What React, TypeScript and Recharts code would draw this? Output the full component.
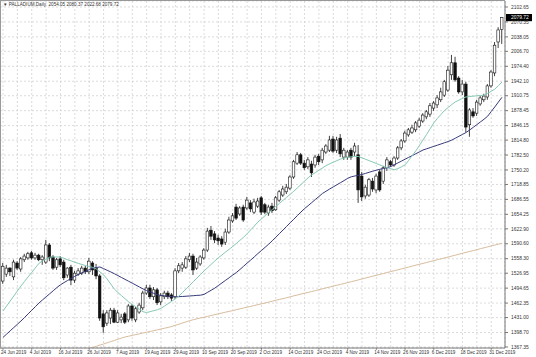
import React from 'react';
import { ComposedChart, Bar, Line, XAxis, YAxis, CartesianGrid, ReferenceLine } from 'recharts';

const symbol = 'PALLADIUM,Daily';

const opens = [
  1510, 1525, 1538, 1519, 1549, 1536, 1556, 1560, 1571, 1560,
  1566, 1556, 1551, 1588, 1562, 1540, 1558, 1551, 1523, 1540,
  1512, 1525, 1527, 1538, 1530, 1549, 1538, 1521, 1439, 1419,
  1430, 1447, 1421, 1426, 1439, 1426, 1456, 1426, 1443, 1452,
  1484, 1495, 1476, 1491, 1465, 1476, 1484, 1480, 1476, 1532,
  1538, 1540, 1556, 1564, 1538, 1547, 1560, 1577, 1620, 1612,
  1603, 1601, 1594, 1616, 1640, 1670, 1655, 1670, 1668, 1679,
  1659, 1672, 1690, 1675, 1657, 1672, 1664, 1685, 1696, 1703,
  1711, 1735, 1765, 1783, 1765, 1757, 1763, 1761, 1780, 1772,
  1789, 1793, 1817, 1793, 1819, 1778, 1778, 1793, 1789, 1783,
  1737, 1694, 1696, 1726, 1707, 1746, 1726, 1755, 1768, 1761,
  1776, 1798, 1813, 1826, 1832, 1837, 1845, 1856, 1865, 1871,
  1884, 1891, 1902, 1912, 1923, 1956, 1982, 1949, 1919, 1936,
  1848, 1876, 1873, 1893, 1902, 1908, 1932, 1960, 2027, 2054.05,
];

const highs = [
  1549, 1545, 1540, 1556, 1553, 1562, 1569, 1573, 1575, 1571,
  1569, 1566, 1599, 1592, 1566, 1560, 1564, 1556, 1540, 1545,
  1532, 1538, 1543, 1543, 1560, 1553, 1547, 1525, 1447, 1447,
  1452, 1452, 1447, 1439, 1443, 1460, 1460, 1454, 1463, 1489,
  1502, 1502, 1497, 1495, 1484, 1489, 1489, 1484, 1538, 1549,
  1551, 1564, 1571, 1569, 1560, 1566, 1581, 1625, 1629, 1618,
  1610, 1607, 1623, 1649, 1657, 1677, 1672, 1675, 1692, 1685,
  1688, 1690, 1694, 1679, 1675, 1679, 1694, 1707, 1716, 1720,
  1739, 1772, 1789, 1787, 1772, 1778, 1770, 1783, 1785, 1798,
  1806, 1824, 1824, 1822, 1828, 1798, 1793, 1798, 1809, 1804,
  1746, 1718, 1733, 1733, 1742, 1750, 1759, 1778, 1772, 1780,
  1802, 1817, 1835, 1841, 1848, 1856, 1863, 1873, 1880, 1895,
  1899, 1912, 1928, 1945, 1975, 1999, 1995, 1953, 1945, 1941,
  1884, 1884, 1902, 1910, 1915, 1936, 1966, 2027, 2059, 2080.37,
];

const lows = [
  1504, 1519, 1521, 1512, 1534, 1530, 1551, 1556, 1556, 1556,
  1553, 1545, 1547, 1553, 1534, 1534, 1540, 1512, 1517, 1501,
  1506, 1521, 1523, 1525, 1525, 1523, 1514, 1424, 1398, 1413,
  1417, 1419, 1419, 1419, 1417, 1421, 1424, 1421, 1439, 1447,
  1480, 1471, 1469, 1458, 1458, 1471, 1471, 1467, 1471, 1527,
  1530, 1536, 1551, 1523, 1534, 1543, 1556, 1573, 1599, 1592,
  1588, 1584, 1588, 1612, 1636, 1642, 1651, 1638, 1664, 1659,
  1655, 1668, 1653, 1655, 1651, 1657, 1662, 1681, 1692, 1698,
  1707, 1731, 1761, 1761, 1750, 1752, 1735, 1755, 1761, 1765,
  1785, 1789, 1787, 1787, 1778, 1772, 1772, 1772, 1780, 1679,
  1683, 1688, 1692, 1703, 1700, 1703, 1720, 1748, 1757, 1757,
  1772, 1793, 1809, 1822, 1828, 1832, 1841, 1852, 1860, 1865,
  1878, 1884, 1897, 1908, 1919, 1945, 1941, 1915, 1912, 1832,
  1822, 1863, 1867, 1889, 1897, 1902, 1928, 1953, 2014, 2022.68,
];

const closes = [
  1542, 1538, 1530, 1551, 1538, 1558, 1564, 1569, 1560, 1566,
  1556, 1562, 1588, 1560, 1538, 1556, 1545, 1517, 1538, 1512,
  1527, 1532, 1538, 1530, 1553, 1534, 1521, 1430, 1411, 1441,
  1447, 1421, 1441, 1432, 1421, 1456, 1430, 1450, 1458, 1484,
  1495, 1476, 1491, 1463, 1478, 1484, 1476, 1473, 1532, 1543,
  1545, 1558, 1564, 1534, 1551, 1562, 1577, 1618, 1607, 1599,
  1597, 1590, 1616, 1642, 1651, 1646, 1668, 1642, 1685, 1666,
  1681, 1683, 1659, 1659, 1670, 1662, 1690, 1703, 1709, 1713,
  1735, 1768, 1783, 1765, 1755, 1772, 1744, 1778, 1768, 1793,
  1802, 1815, 1791, 1815, 1785, 1793, 1789, 1778, 1802, 1707,
  1692, 1713, 1729, 1709, 1737, 1707, 1755, 1772, 1761, 1776,
  1798, 1813, 1830, 1837, 1841, 1852, 1858, 1869, 1876, 1889,
  1895, 1906, 1919, 1941, 1966, 1982, 1945, 1919, 1936, 1843,
  1880, 1867, 1897, 1906, 1910, 1932, 1962, 2020, 2053, 2079.72,
];

// light teal moving average
const maFast = [
  1445.2, 1456.0, 1466.8, 1477.6, 1488.5, 1499.3, 1509.3, 1519.0, 1528.7, 1538.4,
  1548.1, 1553.8, 1557.7, 1561.6, 1562.0, 1562.0, 1561.8, 1559.0, 1556.1, 1553.6,
  1550.7, 1548.1, 1545.8, 1543.6, 1541.4, 1539.5, 1536.0, 1529.8, 1523.5, 1514.6,
  1503.6, 1492.8, 1485.2, 1478.5, 1471.6, 1465.1, 1459.3, 1454.1, 1448.9, 1443.7,
  1441.8, 1443.9, 1445.9, 1448.0, 1451.1, 1456.0, 1461.2, 1466.4, 1471.6, 1477.4,
  1485.2, 1493.0, 1500.8, 1508.6, 1516.2, 1524.0, 1531.7, 1539.1, 1546.2, 1553.4,
  1560.5, 1566.5, 1572.8, 1578.6, 1584.9, 1591.4, 1598.1, 1604.6, 1612.4, 1620.6,
  1629.0, 1637.5, 1644.4, 1651.3, 1658.0, 1664.7, 1671.6, 1678.1, 1684.6, 1691.1,
  1697.6, 1704.3, 1711.4, 1718.8, 1726.2, 1733.3, 1739.6, 1744.5, 1749.7, 1754.7,
  1759.7, 1763.6, 1767.0, 1770.3, 1773.7, 1776.3, 1777.6, 1778.7, 1779.8, 1779.3,
  1776.3, 1773.3, 1770.3, 1767.2, 1764.2, 1761.0, 1757.9, 1755.3, 1753.0, 1750.6,
  1753.2, 1757.1, 1761.2, 1771.1, 1781.3, 1791.7, 1803.4, 1815.0, 1827.2, 1839.5,
  1852.0, 1861.7, 1870.4, 1879.0, 1885.3, 1891.6, 1897.4, 1901.3, 1905.2, 1908.2,
  1909.1, 1909.8, 1910.6, 1911.3, 1912.1, 1915.8, 1920.4, 1925.1, 1932.7, 1940.5,
];

// dark blue moving average
const maMid = [
  1388.3, 1395.2, 1402.4, 1409.4, 1416.5, 1423.6, 1431.2, 1439.0, 1446.8, 1454.5,
  1462.3, 1469.2, 1475.9, 1482.4, 1489.1, 1495.9, 1501.9, 1506.7, 1511.2, 1515.7,
  1520.3, 1524.4, 1527.8, 1531.3, 1534.5, 1538.0, 1539.3, 1540.4, 1536.9, 1533.3,
  1529.8, 1525.9, 1521.8, 1517.7, 1513.6, 1509.5, 1505.4, 1501.3, 1497.1, 1493.0,
  1489.3, 1486.3, 1483.3, 1480.3, 1479.0, 1478.1, 1477.2, 1476.4, 1475.5, 1476.2,
  1476.6, 1477.2, 1477.7, 1478.3, 1479.0, 1479.4, 1481.1, 1485.7, 1490.2, 1494.7,
  1500.4, 1506.0, 1511.6, 1517.2, 1522.9, 1528.5, 1535.0, 1541.9, 1548.8, 1555.5,
  1562.4, 1569.4, 1576.1, 1582.9, 1589.7, 1597.1, 1604.8, 1612.6, 1620.4, 1628.2,
  1636.0, 1643.8, 1651.5, 1659.3, 1666.7, 1673.0, 1679.7, 1686.4, 1692.8, 1699.5,
  1704.3, 1709.1, 1713.6, 1718.2, 1722.7, 1727.2, 1732.0, 1735.4, 1737.2, 1738.7,
  1740.6, 1742.8, 1745.2, 1747.6, 1749.7, 1751.7, 1753.4, 1755.1, 1757.5, 1761.4,
  1765.5, 1769.4, 1773.5, 1777.4, 1781.3, 1785.4, 1789.3, 1793.4, 1796.0, 1798.6,
  1801.2, 1803.8, 1806.4, 1809.1, 1811.6, 1814.8, 1818.9, 1823.1, 1827.1, 1831.3,
  1836.7, 1842.5, 1848.3, 1854.2, 1860.0, 1866.5, 1876.7, 1886.6, 1897.2, 1907.4,
];

// tan long moving average (below the visible range before late July)
const maSlow = [
  null, null, null, null, null, null, null, null, null, null,
  null, null, null, null, null, null, null, null, null, null,
  null, null, null, null, 1363.9, 1366.5, 1368.9, 1371.5, 1373.8, 1376.4,
  1379.0, 1381.4, 1384.0, 1386.6, 1389.0, 1390.7, 1392.5, 1394.2, 1395.9, 1397.6,
  1399.3, 1401.1, 1402.8, 1404.5, 1406.3, 1408.0, 1409.7, 1411.7, 1414.3, 1416.7,
  1419.3, 1421.7, 1424.3, 1426.4, 1428.2, 1430.1, 1431.8, 1433.6, 1435.5, 1437.3,
  1439.0, 1440.9, 1442.7, 1444.4, 1446.1, 1448.1, 1449.8, 1451.7, 1453.5, 1455.2,
  1457.1, 1458.9, 1460.8, 1462.5, 1464.5, 1466.4, 1468.4, 1470.3, 1472.0, 1474.0,
  1475.9, 1477.9, 1479.8, 1481.8, 1483.7, 1485.4, 1487.4, 1489.3, 1491.3, 1493.2,
  1495.2, 1497.1, 1499.1, 1501.0, 1502.7, 1504.7, 1506.6, 1508.6, 1510.5, 1512.5,
  1514.6, 1516.6, 1518.5, 1520.5, 1522.4, 1524.4, 1526.3, 1528.5, 1530.4, 1532.4,
  1534.3, 1536.3, 1538.2, 1540.2, 1542.3, 1544.3, 1546.2, 1548.2, 1550.1, 1552.1,
  1554.2, 1556.2, 1558.1, 1560.1, 1562.0, 1564.0, 1565.9, 1568.1, 1570.0, 1572.0,
  1573.9, 1575.9, 1577.8, 1580.0, 1581.9, 1583.9, 1585.9, 1587.8, 1589.8, 1591.7,
];

// bar index of each date label
const tickBars = [0, 8, 16, 24, 32, 40, 48, 56, 64, 72, 80, 88, 96, 104, 112, 120, 128, 136];
const tickLabels = [
  '24 Jun 2019', '4 Jul 2019', '16 Jul 2019', '26 Jul 2019', '7 Aug 2019', '19 Aug 2019',
  '29 Aug 2019', '10 Sep 2019', '20 Sep 2019', '2 Oct 2019', '14 Oct 2019', '24 Oct 2019',
  '4 Nov 2019', '14 Nov 2019', '26 Nov 2019', '6 Dec 2019', '18 Dec 2019', '31 Dec 2019',
];
// vertical grid every 4 bars
const gridBars = [
  0, 4, 8, 12, 16, 20, 24, 28, 32, 36, 40, 44, 48, 52, 56, 60, 64, 68, 72, 76,
  80, 84, 88, 92, 96, 100, 104, 108, 112, 116, 120, 124, 128, 132, 136,
];
const priceTicks = [
  2102.65, 2070.35, 2038.05, 2006.7, 1974.4, 1942.1, 1910.75, 1878.45, 1846.15, 1814.8,
  1782.5, 1750.2, 1718.85, 1686.55, 1654.25, 1622.9, 1590.6, 1558.3, 1526.95, 1494.65,
  1462.35, 1431.0, 1398.7, 1367.35,
];

const last = closes.length - 1;
const font = "'Liberation Sans', Arial, sans-serif";

const data = closes.map((close, i) => ({
  i,
  open: opens[i],
  high: highs[i],
  low: lows[i],
  close,
  fast: maFast[i],
  mid: maMid[i],
  slow: maSlow[i],
}));

const Candle = (props: any) => {
  const { x, y, width, height, payload } = props;
  const { open, close, high, low } = payload;
  const cx = x + width / 2;
  const toY = (v: number) => y + ((high - v) / (high - low)) * height;
  const top = toY(Math.max(open, close));
  const bottom = toY(Math.min(open, close));
  const bull = close >= open;
  return (
    <g>
      <line x1={cx} x2={cx} y1={y} y2={y + height} stroke="#111" strokeWidth={0.8} />
      <rect
        x={cx - 1.3}
        y={top}
        width={2.6}
        height={Math.max(bottom - top, 0.8)}
        fill={bull ? '#fff' : '#111'}
        stroke="#111"
        strokeWidth={0.6}
      />
    </g>
  );
};

const DateTick = (props: any) => {
  const { x, y, payload } = props;
  const k = tickBars.indexOf(payload.value);
  if (k < 0) return <g />;
  return (
    <g>
      <line x1={x} x2={x} y1={y} y2={y + 2} stroke="#555" strokeWidth={0.6} />
      <text x={x - 2} y={y + 6.4} fontSize={4.6} fill="#333" fontFamily={font}>
        {tickLabels[k]}
      </text>
    </g>
  );
};

const PriceTick = (props: any) => {
  const { x, y, payload } = props;
  return (
    <text x={x} y={y} dy={1.7} fontSize={4.9} fill="#333" fontFamily={font}>
      {Number(payload.value).toFixed(2)}
    </text>
  );
};

const PriceTag = (props: any) => {
  const vb = props.viewBox;
  if (!vb) return <g />;
  const x = vb.x + vb.width + 1;
  return (
    <g>
      <rect x={x} y={vb.y - 3.6} width={26} height={7.2} fill="#000" />
      <text x={x + 5} y={vb.y + 1.7} fontSize={4.9} fill="#fff" fontFamily={font}>
        {closes[last].toFixed(2)}
      </text>
    </g>
  );
};

export default function App() {
  const title = `${symbol}  ${opens[last].toFixed(2)} ${highs[last].toFixed(2)} ${lows[last].toFixed(2)} ${closes[last].toFixed(2)}`;
  return (
    <div style={{ position: 'absolute', left: 0, top: 0, width: 536, height: 357, background: '#fff' }}>
      <ComposedChart width={536} height={357} data={data} margin={{ top: 1, right: 0, bottom: 0, left: 0 }}>
        <CartesianGrid stroke="#d2d2d2" strokeDasharray="2 2" strokeWidth={0.8} />
        <XAxis
          dataKey="i"
          type="number"
          domain={[-0.84, 139.83]}
          ticks={gridBars}
          interval={0}
          height={9}
          tickSize={0}
          tickMargin={0}
          tickLine={false}
          axisLine={{ stroke: '#777' }}
          tick={<DateTick />}
          allowDataOverflow
        />
        <YAxis
          orientation="right"
          type="number"
          domain={[1365.2, 2115.6]}
          ticks={priceTicks}
          interval={0}
          width={31}
          tickSize={3}
          tickMargin={3}
          tickLine={{ stroke: '#777' }}
          axisLine={{ stroke: '#777' }}
          tick={<PriceTick />}
          allowDataOverflow
        />
        <Line dataKey="slow" stroke="#d8bd9e" strokeWidth={1} dot={false} isAnimationActive={false} />
        <Line dataKey="mid" stroke="#363a7a" strokeWidth={1} dot={false} isAnimationActive={false} />
        <Line dataKey="fast" stroke="#86c8b6" strokeWidth={1} dot={false} isAnimationActive={false} />
        <Bar
          dataKey={(d: any) => [d.low, d.high]}
          barSize={3}
          shape={<Candle />}
          isAnimationActive={false}
        />
        <ReferenceLine y={closes[last]} stroke="none" ifOverflow="visible" label={<PriceTag />} />
      </ComposedChart>
      <div
        style={{
          position: 'absolute',
          left: 0,
          top: 0,
          width: 505,
          height: 348,
          borderTop: '1px solid #999',
          borderLeft: '1px solid #999',
          boxSizing: 'border-box',
          pointerEvents: 'none',
        }}
      />
      <div
        style={{
          position: 'absolute',
          left: 3,
          top: 3,
          fontSize: 4.6,
          lineHeight: 1,
          fontFamily: font,
          color: '#333',
          whiteSpace: 'pre',
        }}
      >
        {'\u25BC ' + title}
      </div>
    </div>
  );
}
